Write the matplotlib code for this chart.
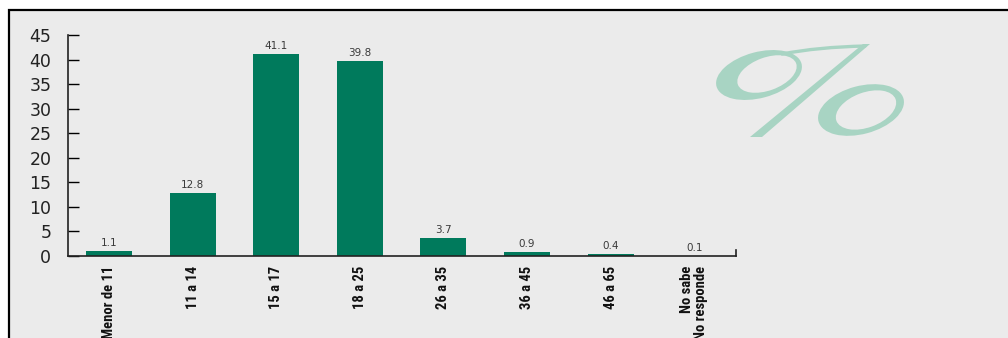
import matplotlib
matplotlib.use("Agg")
import matplotlib.pyplot as plt
from matplotlib import font_manager
from matplotlib.patches import Rectangle, Ellipse, Polygon, PathPatch
from matplotlib.path import Path
from matplotlib.font_manager import FontProperties
from matplotlib.transforms import Affine2D

categories = ["Menor de 11", "11 a 14", "15 a 17", "18 a 25", "26 a 35",
              "36 a 45", "46 a 65", "No sabe\nNo responde"]
values = [1.1, 12.8, 41.1, 39.8, 3.7, 0.9, 0.4, 0.1]
value_labels = ["1.1", "12.8", "41.1", "39.8", "3.7", "0.9", "0.4", "0.1"]
yticks = [0, 5, 10, 15, 20, 25, 30, 35, 40, 45]

BAR = "#007a5c"
PANEL = "#ebebeb"
MARK = "#a8d4c3"

# pick a narrow face for the category labels
entries = font_manager.fontManager.ttflist
narrow_prop = None
for want in ["Liberation Sans Narrow", "Roboto Condensed", "Open Sans Condensed",
             "DejaVu Sans Condensed", "Noto Sans Condensed"]:
    if any(f.name == want for f in entries):
        narrow_prop = FontProperties(family=want, size=10.5, weight="bold")
        break
if narrow_prop is None:
    cond = [f for f in entries if f.name == "DejaVu Sans" and f.stretch != "normal"
            and f.stretch != 500]
    if cond:
        narrow_prop = FontProperties(family="DejaVu Sans", stretch="condensed",
                                     size=10.5, weight="bold")
    else:
        narrow_prop = FontProperties(family="DejaVu Sans", size=8.5)

W, H = 1008, 338
fig = plt.figure(figsize=(W / 100, H / 100), dpi=100, facecolor="white")
px = Affine2D().scale(1 / W, 1 / H) + fig.transFigure  # pixel units, y up

# framed grey panel
fig.add_artist(Rectangle((9 / W, -0.2), 1.2, (H - 10) / H + 0.2,
                         transform=fig.transFigure, facecolor=PANEL,
                         edgecolor="black", linewidth=1.6, zorder=0))

ax = fig.add_axes([68 / W, 82 / H, (736 - 68) / W, (256 - 35) / H])
ax.set_facecolor("none")

x = list(range(len(categories)))
ax.bar(x, values, width=0.55, color=BAR, zorder=2)
for xi, v, lab in zip(x, values, value_labels):
    ax.annotate(lab, (xi, v), xytext=(0, 2), textcoords="offset points",
                ha="center", va="bottom", fontsize=7.5, color="#3a3a3a")

ax.set_xlim(-0.49, 7.5)
ax.set_ylim(0, 45)
ax.set_yticks(yticks)
ax.set_yticklabels([str(t) for t in yticks], fontsize=12.5, color="#222222")
ax.tick_params(axis="y", direction="in", length=8, width=1.0, pad=12)
ax.set_xticks(x)
ax.set_xticklabels(categories, rotation=90, fontproperties=narrow_prop,
                   color="#111111", linespacing=0.95)
for t in ax.get_xticklabels():
    t.set_multialignment("right")
ax.tick_params(axis="x", length=0, pad=7)

for s in ["top", "right"]:
    ax.spines[s].set_visible(False)
for s in ["left", "bottom"]:
    ax.spines[s].set_linewidth(1.2)
    ax.spines[s].set_color("#222222")
ax.plot([1, 1], [0, 0.025], transform=ax.transAxes, color="#222222",
        lw=1.2, clip_on=False)


# large decorative italic percent sign, drawn in pixel units
def up(y):
    return H - y


def ring(cx, cy, w, h, ang, icx, icy, wi, hi, angi):
    fig.add_artist(Ellipse((cx, up(cy)), w, h, angle=ang, transform=px,
                           facecolor=MARK, edgecolor="none", zorder=1))
    fig.add_artist(Ellipse((icx, up(icy)), wi, hi, angle=angi,
                           transform=px, facecolor=PANEL, edgecolor="none",
                           zorder=1))


ring(759, 75, 88, 46, 15, 767, 74, 62, 33, 20)
ring(861, 110, 88, 48, 15, 866, 110, 63, 35, 20)
fig.add_artist(Polygon([(750, up(137)), (762, up(137)), (870, up(44)),
                        (863, up(44))], closed=True, transform=px,
                       facecolor=MARK, edgecolor="none", zorder=1))
hook = Path([(782, up(54)), (818, up(47)), (865, up(46))],
            [Path.MOVETO, Path.CURVE3, Path.CURVE3])
fig.add_artist(PathPatch(hook, transform=px, facecolor="none",
                         edgecolor=MARK, lw=2.4, capstyle="round", zorder=1))

fig.savefig("out.png", dpi=100, facecolor="white")
